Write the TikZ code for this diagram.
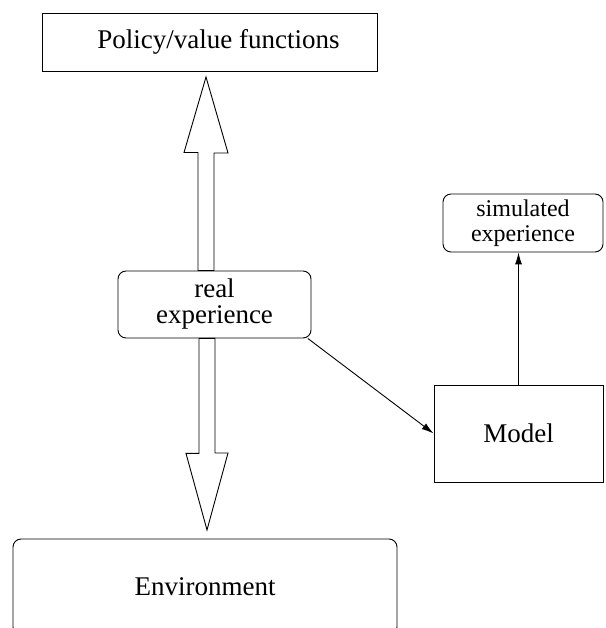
\documentclass[tikz,border=0pt]{standalone}
\usepackage{fontspec}
\setmainfont{Liberation Serif}
\usepackage{tikz}
\usetikzlibrary{calc,arrows.meta}

\begin{document}
\begin{tikzpicture}[x=1pt,y=1pt,line width=0.9pt,
	sqbox/.style={draw,align=center,font=\fontsize{27}{26}\selectfont},
	rbox/.style={sqbox,rounded corners=8pt},
	hollow/.style={draw,fill=white,line join=miter},
	conn/.style={->,>={Latex[length=12pt,width=7pt]}}]
	\useasboundingbox (0,0) rectangle (605,628);
	
	\node[sqbox,minimum width=335pt,minimum height=58pt] (pol) at (209.5,586) {\hspace*{18pt}Policy/value functions};
	\node[rbox,minimum width=193pt,minimum height=67pt] (rexp) at (214.5,323.5) {real\\experience};
	\node[rbox,minimum width=160pt,minimum height=58pt,inner sep=2pt,font=\fontsize{24}{24.5}\selectfont] (sim) at (523,405) {simulated\\experience};
	\node[sqbox,minimum width=169pt,minimum height=97pt] (mod) at (518.5,194.5) {Model};
	\node[rbox,minimum width=384pt,minimum height=96pt] (env) at (205,41) {Environment};
	
	\coordinate (uptip) at (206,551);		%tip under the policy box
	\coordinate (dntip) at (207,98);		%tip over the environment
	\draw[hollow] (uptip) -- ++(22,-76) -- ++(-14,0) -- ([xshift=8pt]uptip |- rexp.north)
		-- ([xshift=-8pt]uptip |- rexp.north) -- ++(0,118) -- ++(-14,0) -- cycle;
	\draw[hollow] (dntip) -- ++(21,77) -- ++(-13,0) -- ([xshift=8pt]dntip |- rexp.south)
		-- ([xshift=-8pt]dntip |- rexp.south) -- ++(0,-115) -- ++(-13,0) -- cycle;
	
	\draw[conn] (rexp.-20) -- (mod.west);
	\draw[conn] (mod.north) -- (mod.north |- sim.south);
\end{tikzpicture}
\end{document}
